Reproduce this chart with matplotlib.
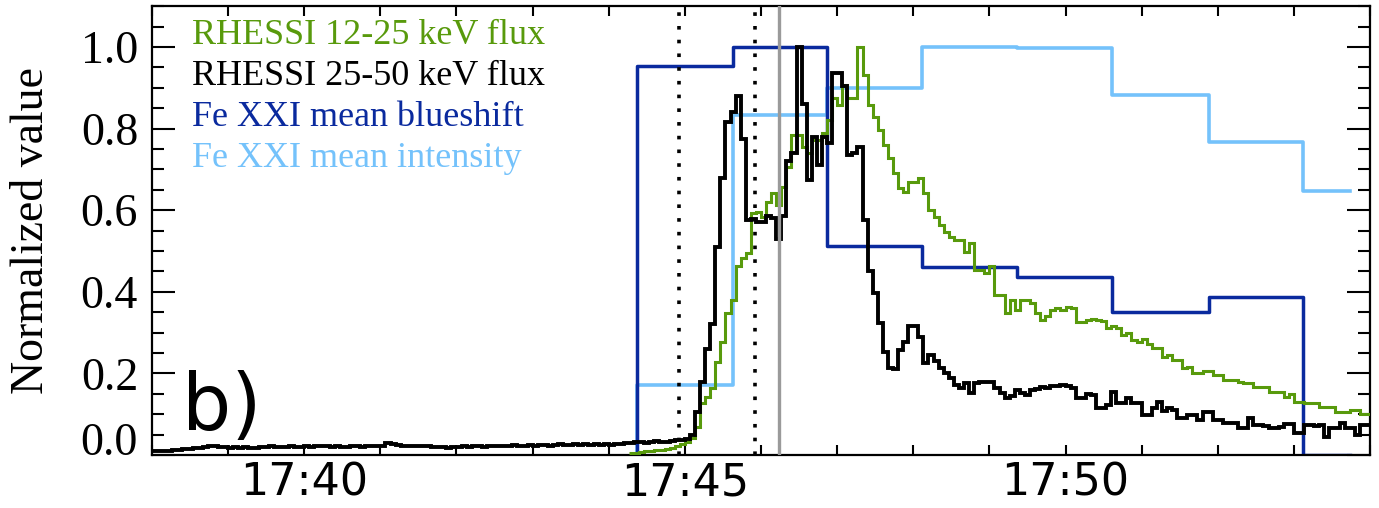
import matplotlib
matplotlib.use("Agg")
import matplotlib.pyplot as plt
import numpy as np
from matplotlib.ticker import MultipleLocator, FixedLocator, FuncFormatter
from matplotlib.transforms import blended_transform_factory

# RHESSI light curves, 4 s bins; one row = one minute
hxr_start = "17:38:00"
hxr_25_50 = [
    0.010, 0.010, 0.011, 0.011, 0.012, 0.013, 0.014, 0.015, 0.016, 0.018, 0.020, 0.021, 0.022, 0.020, 0.019,
    0.017, 0.019, 0.018, 0.020, 0.018, 0.017, 0.019, 0.020, 0.021, 0.019, 0.020, 0.020, 0.021, 0.019, 0.020,
    0.021, 0.020, 0.021, 0.022, 0.021, 0.020, 0.021, 0.020, 0.019, 0.021, 0.022, 0.020, 0.021, 0.022, 0.021,
    0.022, 0.030, 0.026, 0.024, 0.023, 0.022, 0.022, 0.021, 0.022, 0.021, 0.020, 0.019, 0.020, 0.018, 0.019,
    0.020, 0.021, 0.019, 0.021, 0.022, 0.020, 0.021, 0.023, 0.022, 0.021, 0.022, 0.024, 0.023, 0.022, 0.024,
    0.023, 0.025, 0.024, 0.023, 0.025, 0.026, 0.024, 0.025, 0.026, 0.025, 0.027, 0.025, 0.026, 0.024, 0.026,
    0.025, 0.027, 0.028, 0.030, 0.029, 0.031, 0.032, 0.030, 0.033, 0.034, 0.033, 0.032, 0.035, 0.036, 0.038,
    0.040, 0.048, 0.105, 0.180, 0.260, 0.320, 0.510, 0.680, 0.815, 0.840, 0.880, 0.775, 0.575, 0.578, 0.572,
    0.570, 0.585, 0.580, 0.530, 0.585, 0.720, 0.740, 1.000, 0.860, 0.675, 0.780, 0.710, 0.780, 0.765, 0.935,
    0.935, 0.905, 0.735, 0.740, 0.755, 0.576, 0.450, 0.397, 0.323, 0.253, 0.213, 0.210, 0.257, 0.278, 0.315,
    0.315, 0.290, 0.225, 0.245, 0.230, 0.213, 0.200, 0.189, 0.172, 0.164, 0.176, 0.152, 0.176, 0.180, 0.178,
    0.178, 0.164, 0.152, 0.140, 0.145, 0.160, 0.152, 0.147, 0.160, 0.162, 0.167, 0.165, 0.168, 0.170, 0.172,
    0.168, 0.165, 0.140, 0.140, 0.150, 0.148, 0.115, 0.115, 0.122, 0.155, 0.127, 0.127, 0.140, 0.127, 0.127,
    0.098, 0.098, 0.115, 0.131, 0.107, 0.115, 0.110, 0.090, 0.090, 0.098, 0.098, 0.086, 0.106, 0.106, 0.086,
    0.086, 0.078, 0.078, 0.078, 0.066, 0.066, 0.090, 0.074, 0.074, 0.070, 0.066, 0.066, 0.068, 0.076, 0.076,
    0.053, 0.053, 0.074, 0.074, 0.072, 0.074, 0.045, 0.066, 0.066, 0.078, 0.066, 0.066, 0.050, 0.074, 0.074,
]

sxr_start = "17:44:16"
sxr_12_25 = [
    0.004, 0.006, 0.008, 0.009, 0.010, 0.012, 0.013, 0.015, 0.018, 0.022, 0.027,
    0.032, 0.041, 0.069, 0.127, 0.143, 0.164, 0.229, 0.278, 0.348, 0.380, 0.462, 0.482, 0.495, 0.593, 0.596,
    0.584, 0.620, 0.641, 0.613, 0.657, 0.706, 0.784, 0.784, 0.755, 0.740, 0.772, 0.772, 0.789, 0.820, 0.875,
    0.858, 0.906, 0.875, 0.875, 1.000, 0.930, 0.858, 0.829, 0.797, 0.760, 0.727, 0.690, 0.654, 0.645, 0.670,
    0.670, 0.678, 0.641, 0.600, 0.584, 0.564, 0.547, 0.535, 0.527, 0.527, 0.498, 0.519, 0.453, 0.453, 0.446,
    0.462, 0.392, 0.392, 0.348, 0.380, 0.355, 0.380, 0.380, 0.372, 0.348, 0.331, 0.340, 0.355, 0.360, 0.355,
    0.362, 0.360, 0.327, 0.327, 0.330, 0.333, 0.330, 0.328, 0.311, 0.315, 0.311, 0.294, 0.300, 0.283, 0.278,
    0.285, 0.272, 0.262, 0.262, 0.241, 0.245, 0.233, 0.233, 0.213, 0.215, 0.200, 0.200, 0.206, 0.206, 0.196,
    0.196, 0.184, 0.184, 0.184, 0.180, 0.176, 0.176, 0.167, 0.167, 0.167, 0.155, 0.155, 0.155, 0.143, 0.150,
    0.131, 0.131, 0.127, 0.127, 0.127, 0.118, 0.118, 0.118, 0.106, 0.106, 0.106, 0.110, 0.110, 0.100, 0.100,
]
bin_sec = 4

# IRIS Fe XXI raster bins
iris_edges = ["17:44:22", "17:45:38", "17:46:52", "17:48:07", "17:49:22",
              "17:50:37", "17:51:53", "17:53:07", "17:53:44"]
fe21_blueshift = [0.952, 1.000, 0.512, 0.461, 0.435, 0.350, 0.388, 0.000]
fe21_intensity = [0.172, 0.833, 0.900, 1.000, 0.997, 0.882, 0.766, 0.648]

dotted_times = ["17:44:55", "17:45:55"]
gray_time = "17:46:14"

GREEN = "#589a0c"
DARK_BLUE = "#0a2a9e"
LIGHT_BLUE = "#74c2fb"


def to_min(hms):
    # minutes after 17:00
    h, m, s = (int(p) for p in hms.split(":"))
    return (h - 17) * 60 + m + s / 60.0


def bin_edges(start, n):
    return to_min(start) + np.arange(n + 1) * bin_sec / 60.0


def raster_steps(edges, values):
    x = [edges[0]] + list(edges)
    y = [0.0] + list(values) + [values[-1]]
    return x, y


fig = plt.figure(figsize=(13.79, 5.08), dpi=100)
ax = fig.add_axes([0.1102, 0.1043, 0.8833, 0.8837])

edges_iris = [to_min(t) for t in iris_edges]
xb, yb = raster_steps(edges_iris, fe21_blueshift)
xi, yi = raster_steps(edges_iris, fe21_intensity)
ax.plot(xi, yi, drawstyle="steps-post", color=LIGHT_BLUE, lw=2.6, zorder=2)
ax.plot(xb, yb, drawstyle="steps-post", color=DARK_BLUE, lw=2.5, zorder=2)

e_sxr = bin_edges(sxr_start, len(sxr_12_25))
ax.stairs(sxr_12_25, e_sxr, baseline=None, color=GREEN, lw=2.2, zorder=3)
e_hxr = bin_edges(hxr_start, len(hxr_25_50))
ax.stairs(hxr_25_50, e_hxr, baseline=None, color="black", lw=2.8, zorder=4)

for t in dotted_times:
    ax.axvline(to_min(t), color="black", lw=2.6, linestyle=(0, (1, 2.8)), zorder=5)
ax.axvline(to_min(gray_time), color="#9a9a9a", lw=2.4, zorder=5)

ax.set_xlim(38, 54)
ax.set_ylim(0, 1.1)

ax.xaxis.set_major_locator(FixedLocator([40, 45, 50]))
ax.xaxis.set_minor_locator(MultipleLocator(1))
ax.xaxis.set_major_formatter(FuncFormatter(lambda v, _: f"17:{int(round(v)):02d}"))
ax.yaxis.set_major_locator(MultipleLocator(0.2))
ax.yaxis.set_minor_locator(MultipleLocator(0.05))
# bottom label is drawn separately, sitting on its tick
ax.yaxis.set_major_formatter(FuncFormatter(lambda v, _: "" if abs(v) < 1e-9 else f"{v:.1f}"))

ax.tick_params(axis="x", which="both", direction="in", top=True, bottom=True,
               length=7, width=1.5, pad=5, labelsize=32)
ax.tick_params(axis="y", which="major", direction="in", left=True, right=True,
               length=16.5, width=1.5, pad=10, labelsize=33)
ax.tick_params(axis="y", which="minor", direction="in", left=True, right=True,
               length=8.5, width=1.5)
for lab in ax.get_yticklabels():
    lab.set_fontfamily("Liberation Serif")
for lab in ax.get_xticklabels():
    lab.set_fontfamily("DejaVu Sans")
for sp in ax.spines.values():
    sp.set_linewidth(1.6)

trans = blended_transform_factory(ax.transAxes, ax.transData)
ax.text(-0.0115, 0.0, "0.0", transform=trans, ha="right", va="baseline",
        fontsize=33, family="Liberation Serif")

ax.set_ylabel("Normalized value", fontsize=33, family="Liberation Serif", labelpad=20)

legend_rows = [
    ("RHESSI 12-25 keV flux", GREEN),
    ("RHESSI 25-50 keV flux", "black"),
    ("Fe XXI mean blueshift", DARK_BLUE),
    ("Fe XXI mean intensity", LIGHT_BLUE),
]
for k, (txt, col) in enumerate(legend_rows):
    ax.text(0.0326, 0.935 - k * 0.0915, txt, color=col, fontsize=26,
            family="Liberation Serif", transform=ax.transAxes, va="center", ha="left")

ax.text(0.0245, 0.056, "b)", fontsize=56, family="DejaVu Sans",
        transform=ax.transAxes, ha="left", va="baseline")

fig.savefig("out.png", dpi=100)
